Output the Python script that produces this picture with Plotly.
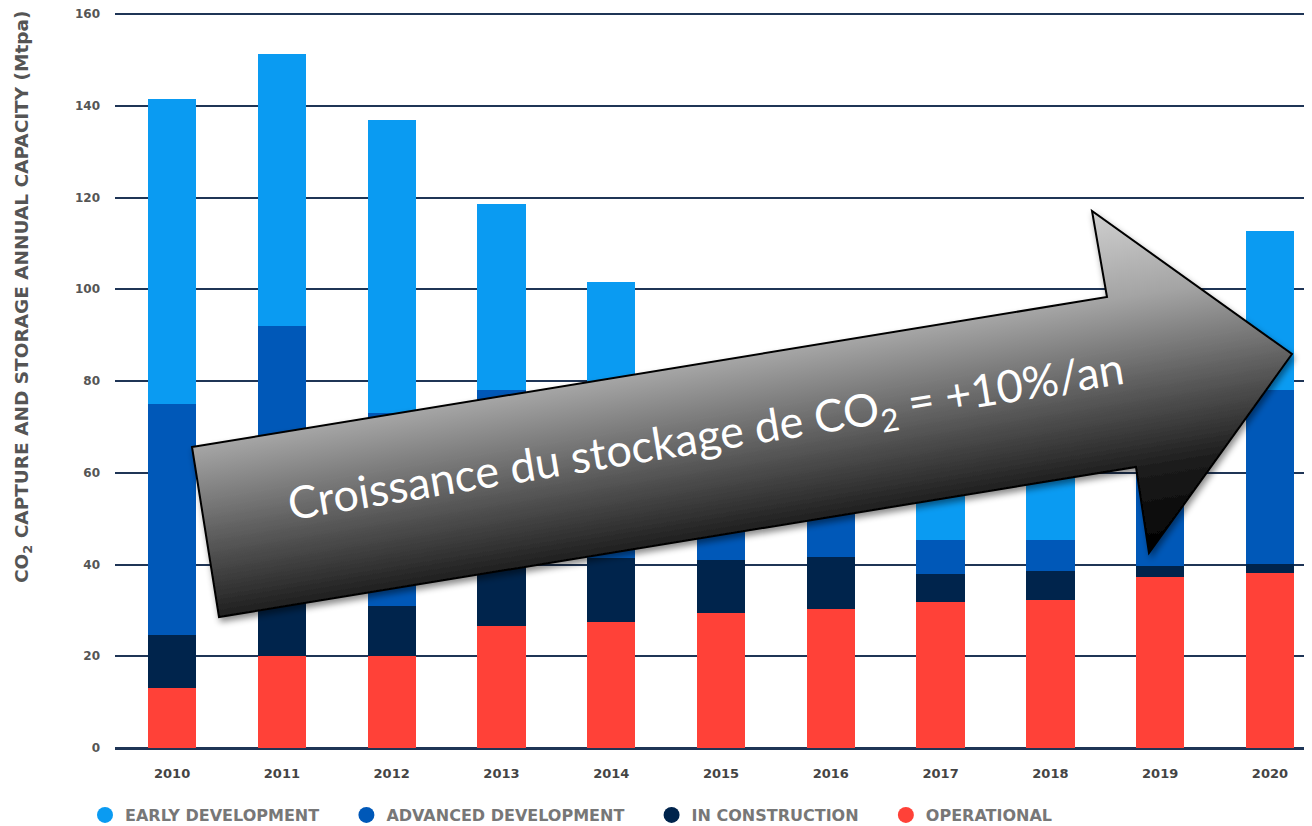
import base64
import plotly.graph_objects as go

years = [2010, 2011, 2012, 2013, 2014, 2015, 2016, 2017, 2018, 2019, 2020]
operational = [13.0, 20.0, 20.0, 26.6, 27.5, 29.5, 30.3, 31.8, 32.3, 37.3, 38.1]
in_construction = [11.6, 12.0, 11.0, 13.4, 13.9, 11.5, 11.3, 6.2, 6.3, 2.4, 2.0]
advanced_dev = [50.4, 60.0, 42.0, 38.0, 30.6, 11.0, 11.4, 7.3, 6.7, 22.3, 37.9]
early_dev = [66.5, 59.3, 64.0, 40.6, 29.6, 23.0, 17.0, 17.7, 20.7, 34.0, 34.7]

series_names = ["EARLY DEVELOPMENT", "ADVANCED DEVELOPMENT", "IN CONSTRUCTION", "OPERATIONAL"]
series_colors = ["#0a9bf2", "#0058b8", "#00244c", "#ff4138"]
y_ticks = [0, 20, 40, 60, 80, 100, 120, 140, 160]
arrow_label = "Croissance du stockage de CO<sub>2</sub> = +10%/an"
y_title = "CO<sub>2</sub> CAPTURE AND STORAGE ANNUAL CAPACITY (Mtpa)"

# page body has an 8px margin: the figure starts at (8, 8) in the screenshot
OFF = 8
W, H = 1312 - OFF, 826 - OFF
L, R, T, B = 115 - OFF, 0, 1, 78
pw, ph = W - L - R, H - T - B
Y_MAX = ph / 4.5875  # keeps 160 at the same height as the reference while showing its gridline
AXFONT = "DejaVu Sans, Liberation Sans, sans-serif"
NB = "\u00a0"


def px(sx):  # screenshot x -> paper x
    return (sx - OFF - L) / pw


def py(sy):  # screenshot y -> paper y
    return (H - B - (sy - OFF)) / ph


fig = go.Figure()
stack = [(operational, 3), (in_construction, 2), (advanced_dev, 1), (early_dev, 0)]
for vals, idx in stack:
    fig.add_trace(go.Bar(
        x=years, y=vals, name=series_names[idx], marker_color=series_colors[idx],
        marker_line_width=0, width=0.44, showlegend=False, hoverinfo="x+y+name"))

for i, name in enumerate(series_names):
    fig.add_trace(go.Scatter(
        x=[None], y=[None], mode="markers", name=name + NB * 4,
        marker=dict(symbol="circle", size=22, color=series_colors[i])))

# Decorative arrow (pixel-space SVG overlay, screenshot coordinates)
pts = [(192, 447), (1107, 297), (1092, 211), (1292, 354), (1149, 553), (1136, 467), (219, 617)]
poly = " ".join(f"{x - OFF},{y - OFF}" for x, y in pts)
svg = f'''<svg xmlns="http://www.w3.org/2000/svg" width="{W}" height="{H}" viewBox="0 0 {W} {H}">
<defs>
<linearGradient id="g" gradientUnits="userSpaceOnUse" x1="54" y1="371" x2="110" y2="714">
<stop offset="0" stop-color="#d0d0d0"/>
<stop offset="0.26" stop-color="#a4a4a4"/>
<stop offset="0.52" stop-color="#5c5c5c"/>
<stop offset="0.76" stop-color="#1c1c1c"/>
<stop offset="1" stop-color="#000000"/>
</linearGradient>
<filter id="s" x="-10%" y="-10%" width="120%" height="130%">
<feDropShadow dx="2" dy="4" stdDeviation="3" flood-color="#000" flood-opacity="0.45"/>
</filter>
</defs>
<polygon points="{poly}" fill="url(#g)" stroke="#000" stroke-width="2" stroke-linejoin="miter" filter="url(#s)"/>
</svg>'''
src = "data:image/svg+xml;base64," + base64.b64encode(svg.encode()).decode()
fig.add_layout_image(dict(
    source=src, xref="paper", yref="paper",
    x=-L / pw, y=(ph + T) / ph, sizex=W / pw, sizey=H / ph,
    xanchor="left", yanchor="top", sizing="stretch", layer="above"))

fig.add_annotation(
    text=arrow_label, xref="paper", yref="paper",
    x=px(706), y=py(438), showarrow=False, textangle=-9.3,
    font=dict(family="Lato, Open Sans, sans-serif", size=45, color="white"))

fig.add_annotation(
    text=y_title, xref="paper", yref="paper",
    x=px(23), y=py(297), showarrow=False, textangle=-90,
    xanchor="center", yanchor="middle",
    font=dict(family=AXFONT, size=18.5, color="#555555", weight="bold"))

fig.update_layout(
    width=W, height=H, barmode="stack",
    margin=dict(l=L, r=R, t=T, b=B, pad=0, autoexpand=False),
    plot_bgcolor="white", paper_bgcolor="white",
    font=dict(family=AXFONT),
    legend=dict(orientation="h", traceorder="normal",
                xref="container", yref="container",
                x=(85 - OFF) / W, xanchor="left", y=1 - (815 - OFF) / H, yanchor="middle",
                font=dict(family=AXFONT, size=16, color="#777777", weight="bold"),
                itemwidth=30, bgcolor="rgba(0,0,0,0)"),
    xaxis=dict(range=[2009.48, 2020.383], tickmode="array", tickvals=years,
               ticktext=[str(y) for y in years], showgrid=False, zeroline=False,
               showline=False, ticks="", ticklabelstandoff=16, automargin=False,
               tickfont=dict(size=13, color="#444444", weight="bold")),
    yaxis=dict(range=[0, Y_MAX], tickmode="array", tickvals=y_ticks, showgrid=True,
               gridcolor="#1f3556", gridwidth=2, zeroline=True, zerolinecolor="#1f3556",
               zerolinewidth=3, showline=False, ticks="", ticklabelstandoff=14,
               automargin=False, ticklabeloverflow="allow",
               tickfont=dict(size=12, color="#555555", weight="bold")),
)

fig.write_html("out.html")
